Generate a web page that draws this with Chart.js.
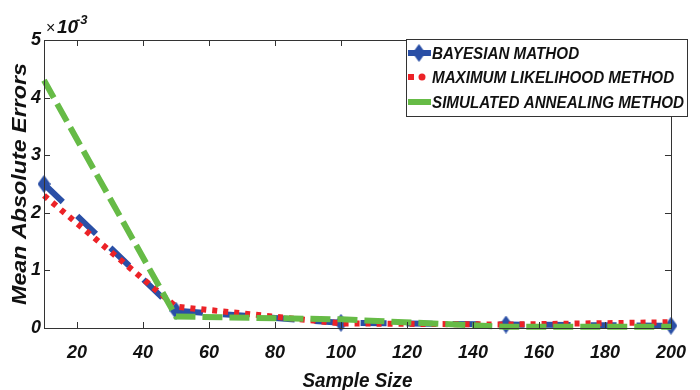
<!DOCTYPE html>
<html>
<head>
<meta charset="utf-8">
<script src="https://cdn.jsdelivr.net/npm/chart.js@4.4.0/dist/chart.umd.min.js"></script>
<style>
html, body { margin: 0; padding: 0; background: #fff; }
</style>
</head>
<body>
<canvas id="errChart" width="700" height="390"></canvas>
<script>
// values in units of 1e-3
var sampleSizes = [10, 50, 100, 150, 200];
var bayesian = [2.5, 0.3, 0.09, 0.06, 0.04];
var maxLikelihood = [2.3, 0.37, 0.08, 0.06, 0.1];
var simAnnealing = [4.3, 0.2, 0.15, 0.02, 0.02];

var xTickVals = [20, 40, 60, 80, 100, 120, 140, 160, 180, 200];
var yTickVals = [0, 1, 2, 3, 4, 5];
var seriesNames = ['BAYESIAN MATHOD', 'MAXIMUM LIKELIHOOD METHOD', 'SIMULATED ANNEALING METHOD'];

var blue = '#2a4fa6';
var red = '#ec2227';
var green = '#66bb46';
var fontFam = "'Liberation Sans', Arial, sans-serif";

// tall diamond marker like matlab 'd'
function makeDiamond(w, h, color) {
	var c = document.createElement('canvas');
	c.width = w; c.height = h;
	var g = c.getContext('2d');
	g.fillStyle = color;
	g.beginPath();
	g.moveTo(w / 2, 0);
	g.lineTo(w, h / 2);
	g.lineTo(w / 2, h);
	g.lineTo(0, h / 2);
	g.closePath();
	g.fill();
	return c;
}
var diamond = makeDiamond(13, 18, blue);

function toPts(ys) {
	var out = [];
	for (var i in ys) out.push({x: sampleSizes[i], y: ys[i]});
	return out;
}

var decorPlugin = {
	id: 'decor',
	afterDraw: function(chart) {
		var ctx = chart.ctx;
		var a = chart.chartArea;
		var xs = chart.scales.x, ys = chart.scales.y;
		ctx.save();

		// box
		ctx.strokeStyle = '#333';
		ctx.lineWidth = 1;
		ctx.strokeRect(Math.round(a.left) + 0.5, Math.round(a.top) + 0.5, Math.round(a.right - a.left), Math.round(a.bottom - a.top));

		// inward ticks
		ctx.beginPath();
		xTickVals.forEach(function(v) {
			var px = Math.round(xs.getPixelForValue(v)) + 0.5;
			ctx.moveTo(px, a.bottom); ctx.lineTo(px, a.bottom - 6);
			ctx.moveTo(px, a.top); ctx.lineTo(px, a.top + 6);
		});
		yTickVals.forEach(function(v) {
			var py = Math.round(ys.getPixelForValue(v)) + 0.5;
			ctx.moveTo(a.left, py); ctx.lineTo(a.left + 6, py);
			ctx.moveTo(a.right, py); ctx.lineTo(a.right - 6, py);
		});
		ctx.stroke();

		// exponent
		ctx.fillStyle = '#111';
		ctx.textBaseline = 'alphabetic';
		ctx.font = '16px ' + fontFam;
		ctx.fillText('\u00d7', 46, 33);
		ctx.font = 'italic bold 19px ' + fontFam;
		ctx.fillText('10', 57, 33);
		ctx.font = 'italic bold 13px ' + fontFam;
		ctx.fillText('-3', 76, 24);

		// axis titles
		ctx.font = 'italic bold 21px ' + fontFam;
		var t = 'Sample Size';
		var w = ctx.measureText(t).width;
		ctx.save();
		ctx.translate((a.left + a.right) / 2, 387);
		ctx.scale(110 / w, 1);
		ctx.textAlign = 'center';
		ctx.fillText(t, 0, 0);
		ctx.restore();

		t = 'Mean Absolute Errors';
		ctx.font = 'italic bold 21px ' + fontFam;
		w = ctx.measureText(t).width;
		ctx.save();
		ctx.translate(26, (a.top + a.bottom) / 2);
		ctx.rotate(-Math.PI / 2);
		ctx.scale(242 / w, 1);
		ctx.textAlign = 'center';
		ctx.fillText(t, 0, 0);
		ctx.restore();

		// legend
		var lx = 406, ly = 39, lw = 281, lh = 77;
		ctx.fillStyle = '#fff';
		ctx.fillRect(lx, ly, lw, lh);
		ctx.strokeStyle = '#333';
		ctx.strokeRect(lx + 0.5, ly + 0.5, lw, lh);
		var rows = [53, 77, 102];

		ctx.lineWidth = 6;
		ctx.strokeStyle = blue;
		ctx.beginPath(); ctx.moveTo(408, rows[0]); ctx.lineTo(431, rows[0]); ctx.stroke();
		ctx.drawImage(diamond, 419 - 6.5, rows[0] - 9);

		ctx.fillStyle = red;
		ctx.fillRect(408, rows[1] - 3, 6, 6);
		ctx.beginPath(); ctx.arc(422, rows[1], 3.5, 0, Math.PI * 2); ctx.fill();

		ctx.strokeStyle = green;
		ctx.beginPath(); ctx.moveTo(408, rows[2]); ctx.lineTo(431, rows[2]); ctx.stroke();

		ctx.font = 'italic bold 16.5px ' + fontFam;
		ctx.fillStyle = '#111';
		ctx.textBaseline = 'middle';
		var sc = 252 / ctx.measureText(seriesNames[2]).width;
		for (var i = 0; i < 3; i++) {
			ctx.save();
			ctx.translate(432, rows[i] + 1);
			ctx.scale(sc, 1);
			ctx.fillText(seriesNames[i], 0, 0);
			ctx.restore();
		}
		ctx.restore();
	}
};

var chartdata = {
	datasets: [
		{
			label: seriesNames[0],
			data: toPts(bayesian),
			borderColor: blue,
			backgroundColor: blue,
			borderWidth: 6,
			borderDash: [26, 20],
			pointStyle: diamond,
			pointRadius: 9,
			order: 2,
			clip: false
		},
		{
			label: seriesNames[1],
			data: toPts(maxLikelihood),
			borderColor: red,
			backgroundColor: red,
			borderWidth: 6,
			borderDash: [5, 6],
			pointRadius: 0,
			order: 1,
			clip: false
		},
		{
			label: seriesNames[2],
			data: toPts(simAnnealing),
			borderColor: green,
			backgroundColor: green,
			borderWidth: 6,
			borderDash: [20, 7],
			pointRadius: 0,
			order: 0,
			clip: false
		}
	]
};

var ctx = document.getElementById('errChart');
var lineGraph = new Chart(ctx, {
	type: 'line',
	data: chartdata,
	plugins: [decorPlugin],
	options: {
		responsive: false,
		animation: false,
		layout: { padding: { left: 0, top: 40, right: 12, bottom: 0 } },
		plugins: { legend: { display: false }, tooltip: { enabled: false } },
		scales: {
			x: {
				type: 'linear',
				min: 10,
				max: 200,
				afterBuildTicks: function(s) { s.ticks = xTickVals.map(function(v) { return {value: v}; }); },
				afterFit: function(s) { s.height = 62; },
				grid: { display: false, drawTicks: false },
				border: { display: false },
				ticks: {
					padding: 14,
					color: '#111',
					font: { family: fontFam, size: 18, style: 'italic', weight: 'bold' },
					callback: function(v) { return String(v); }
				}
			},
			y: {
				min: 0,
				max: 5,
				afterBuildTicks: function(s) { s.ticks = yTickVals.map(function(v) { return {value: v}; }); },
				afterFit: function(s) { s.width = 44; },
				grid: { display: false, drawTicks: false },
				border: { display: false },
				ticks: {
					padding: 3,
					color: '#111',
					font: { family: fontFam, size: 18, style: 'italic', weight: 'bold' },
					callback: function(v) { return String(v); }
				}
			}
		}
	}
});
</script>
</body>
</html>
